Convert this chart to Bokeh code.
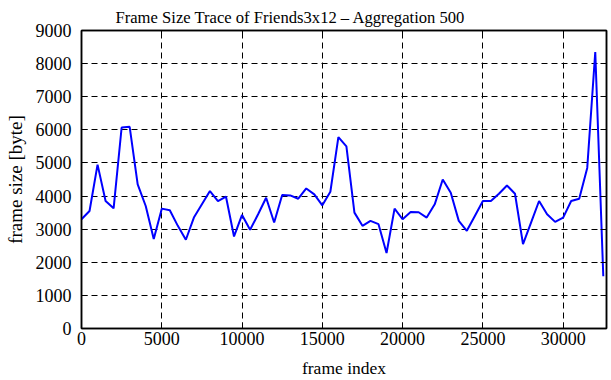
from bokeh.plotting import figure
from bokeh.models import LinearAxis, Range1d, FixedTicker, Title
from bokeh.embed import file_html
from bokeh.resources import INLINE

frames = [0, 500, 1000, 1500, 2000, 2500, 3000, 3500, 4000, 4500,
          5000, 5500, 6000, 6500, 7000, 7500, 8000, 8500, 9000, 9500,
          10000, 10500, 11000, 11500, 12000, 12500, 13000, 13500, 14000, 14500,
          15000, 15500, 16000, 16500, 17000, 17500, 18000, 18500, 19000, 19500,
          20000, 20500, 21000, 21500, 22000, 22500, 23000, 23500, 24000, 24500,
          25000, 25500, 26000, 26500, 27000, 27500, 28000, 28500, 29000, 29500,
          30000, 30500, 31000, 31500, 32000, 32500]
sizes = [3300, 3550, 4950, 3850, 3630, 6070, 6090, 4350, 3700, 2700,
         3620, 3570, 3100, 2680, 3350, 3750, 4150, 3850, 3980, 2780,
         3430, 2980, 3450, 3950, 3200, 4030, 4020, 3920, 4230, 4050,
         3720, 4130, 5780, 5500, 3500, 3100, 3250, 3150, 2280, 3620,
         3300, 3520, 3510, 3350, 3750, 4500, 4100, 3250, 2950, 3400,
         3850, 3850, 4070, 4320, 4070, 2550, 3200, 3850, 3450, 3220,
         3350, 3850, 3920, 4850, 8350, 1580]
x_ticks = [0, 5000, 10000, 15000, 20000, 25000, 30000]
y_ticks = [0, 1000, 2000, 3000, 4000, 5000, 6000, 7000, 8000, 9000]
x_max = 32700
y_max = 9000
title_text = "Frame Size Trace of Friends3x12 \u2013 Aggregation 500"

FONT = "Liberation Serif"

p = figure(width=611, height=380, output_backend="svg", toolbar_location=None,
           x_range=Range1d(0, x_max), y_range=Range1d(0, y_max),
           min_border_left=81, min_border_right=5, min_border_top=30, min_border_bottom=50)
p.title = None
bottom = p.below[0]
left = p.left[0]

top = LinearAxis(ticker=FixedTicker(ticks=x_ticks))
right = LinearAxis(ticker=FixedTicker(ticks=y_ticks))
for ax in [top, right]:
    ax.major_tick_in = 6
    ax.major_tick_out = 0
    ax.minor_tick_in = 0
    ax.minor_tick_out = 0
    ax.minor_tick_line_color = None
    ax.major_label_text_color = None
    ax.major_label_standoff = 0
    ax.axis_label_standoff = 0
    ax.axis_line_color = "black"
    ax.axis_line_width = 1.5
p.add_layout(top, "above")
p.add_layout(right, "right")

p.add_layout(Title(text=title_text, align="left", offset=34, text_font=FONT,
                   text_font_size="16.6px", text_font_style="normal",
                   standoff=8, text_color="black"), "above")

p.line(frames, sizes, line_color="#0000ff", line_width=2)

for ax in [bottom, left]:
    ax.major_tick_in = 6
    ax.major_tick_out = 0
    ax.minor_tick_in = 0
    ax.minor_tick_out = 0
    ax.minor_tick_line_color = None
    ax.axis_line_color = "black"
    ax.axis_line_width = 1.5
    ax.major_label_text_font = FONT
    ax.major_label_text_font_size = "18px"
    ax.major_label_text_color = "black"
    ax.axis_label_text_font = FONT
    ax.axis_label_text_font_style = "normal"
    ax.axis_label_text_color = "black"

bottom.ticker = FixedTicker(ticks=x_ticks)
left.ticker = FixedTicker(ticks=y_ticks)
bottom.axis_label = "frame index"
left.axis_label = "frame size [byte]"
bottom.axis_label_text_font_size = "17.5px"
left.axis_label_text_font_size = "19px"
bottom.major_label_standoff = 3
left.major_label_standoff = 10
bottom.axis_label_standoff = 10
left.axis_label_standoff = 7

for g in [p.xgrid[0], p.ygrid[0]]:
    g.grid_line_color = "black"
    g.grid_line_dash = "6 4"
    g.grid_line_width = 1
p.xgrid[0].ticker = FixedTicker(ticks=x_ticks)
p.ygrid[0].ticker = FixedTicker(ticks=y_ticks)

p.outline_line_color = "black"
p.outline_line_width = 1.5
p.background_fill_color = "white"
p.border_fill_color = "white"

open("out.html", "w").write(file_html(p, INLINE))
